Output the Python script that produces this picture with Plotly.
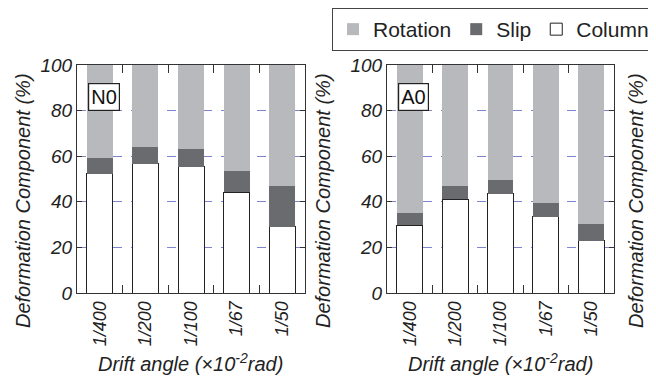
import plotly.graph_objects as go

categories = ["1/400", "1/200", "1/100", "1/67", "1/50"]

# N0 panel (%)
n0_column = [52.4, 56.8, 55.3, 44.1, 29.1]
n0_slip = [6.9, 7.2, 7.8, 9.3, 17.8]
n0_rotation = [100 - c - s for c, s in zip(n0_column, n0_slip)]

# A0 panel (%)
a0_column = [29.7, 41.1, 43.6, 33.4, 23.0]
a0_slip = [5.6, 5.9, 6.0, 6.1, 7.3]
a0_rotation = [100 - c - s for c, s in zip(a0_column, a0_slip)]

panel_labels = ["N0", "A0"]
y_ticks = [0, 20, 40, 60, 80, 100]

FONT = "Liberation Sans, Arial, sans-serif"
ROT_C = "#b8b9bc"
SLIP_C = "#6a6b6f"

fig = go.Figure()

panels = [(n0_column, n0_slip, n0_rotation), (a0_column, a0_slip, a0_rotation)]
for i, (col, slip, rot) in enumerate(panels):
    xa = "x" if i == 0 else "x2"
    ya = "y" if i == 0 else "y2"
    show = i == 1
    fig.add_trace(go.Bar(x=categories, y=col, name="Column", xaxis=xa, yaxis=ya,
                         marker=dict(color="white", line=dict(color="#222", width=1)),
                         showlegend=show, legendrank=3, width=0.57))
    fig.add_trace(go.Bar(x=categories, y=slip, name="Slip", xaxis=xa, yaxis=ya,
                         marker=dict(color=SLIP_C, line=dict(width=0)),
                         showlegend=show, legendrank=2, width=0.57))
    fig.add_trace(go.Bar(x=categories, y=rot, name="Rotation", xaxis=xa, yaxis=ya,
                         marker=dict(color=ROT_C, line=dict(width=0)),
                         showlegend=show, legendrank=1, width=0.57))

W, H = 656, 380
OFF = 8  # page body margin offset
def px_x(p):
    return (p - OFF) / W
def px_y(p):
    return 1 - (p - OFF) / H

xdom1 = [px_x(77), px_x(305)]
xdom2 = [px_x(387), px_x(614)]
ydom = [px_y(293), px_y(65)]

axis_common_x = dict(
    automargin=False,
    showline=True, linecolor="#333", linewidth=1.2, mirror="ticks",
    ticks="inside", ticklen=8, tickcolor="#333", tickwidth=1,
    tickson="boundaries", tickangle=-90,
    tickfont=dict(family=FONT, size=18, color="#222", style="italic"),
    showgrid=False, zeroline=False,
)
axis_common_y = dict(
    automargin=False,
    range=[0, 100], tickvals=y_ticks, showline=True, linecolor="#333", linewidth=1.2,
    mirror="ticks", ticks="inside", ticklen=5, tickcolor="#333", tickwidth=1,
    tickfont=dict(family=FONT, size=19, color="#222", style="italic"),
    showgrid=True, gridcolor="#7f84d0", gridwidth=1, griddash="dash",
    zeroline=False,
)

fig.update_layout(
    template="none",
    width=W, height=H,
    margin=dict(l=0, r=0, t=0, b=0, pad=0, autoexpand=False),
    paper_bgcolor="white", plot_bgcolor="white",
    barmode="stack", bargap=0.43,
    xaxis=dict(domain=xdom1, anchor="y", **axis_common_x),
    yaxis=dict(domain=ydom, anchor="x", **axis_common_y),
    xaxis2=dict(domain=xdom2, anchor="y2", **axis_common_x),
    yaxis2=dict(domain=ydom, anchor="x2", **axis_common_y),
    legend=dict(orientation="h", x=px_x(332), y=1.0, xanchor="left", yanchor="top",
                bordercolor="#444", borderwidth=1, bgcolor="white",
                font=dict(family=FONT, size=21, color="#222"),
                traceorder="normal", itemwidth=30),
    font=dict(family=FONT),
)

annotations = []
# panel labels
for lab, x0 in zip(panel_labels, [88, 398]):
    annotations.append(dict(text=lab, x=px_x(x0), y=px_y(83), xref="paper", yref="paper",
                            xanchor="left", yanchor="top", showarrow=False,
                            font=dict(family=FONT, size=20, color="#111"),
                            bordercolor="#222", borderwidth=1.2, borderpad=2, bgcolor="white"))
# y-axis titles
for xc in [23, 323, 636]:
    annotations.append(dict(text="Deformation Component (%)", x=px_x(xc), y=px_y(201),
                            xref="paper", yref="paper", xanchor="center", yanchor="middle",
                            textangle=-90, showarrow=False,
                            font=dict(family=FONT, size=20, color="#222", style="italic")))
# x-axis titles
for xc in [190, 500]:
    annotations.append(dict(text="Drift angle (×10<sup>-2</sup>rad)", x=px_x(xc), y=px_y(362),
                            xref="paper", yref="paper", xanchor="center", yanchor="middle",
                            showarrow=False,
                            font=dict(family=FONT, size=20, color="#222", style="italic")))
fig.update_layout(annotations=annotations)

fig.write_html("out.html")
